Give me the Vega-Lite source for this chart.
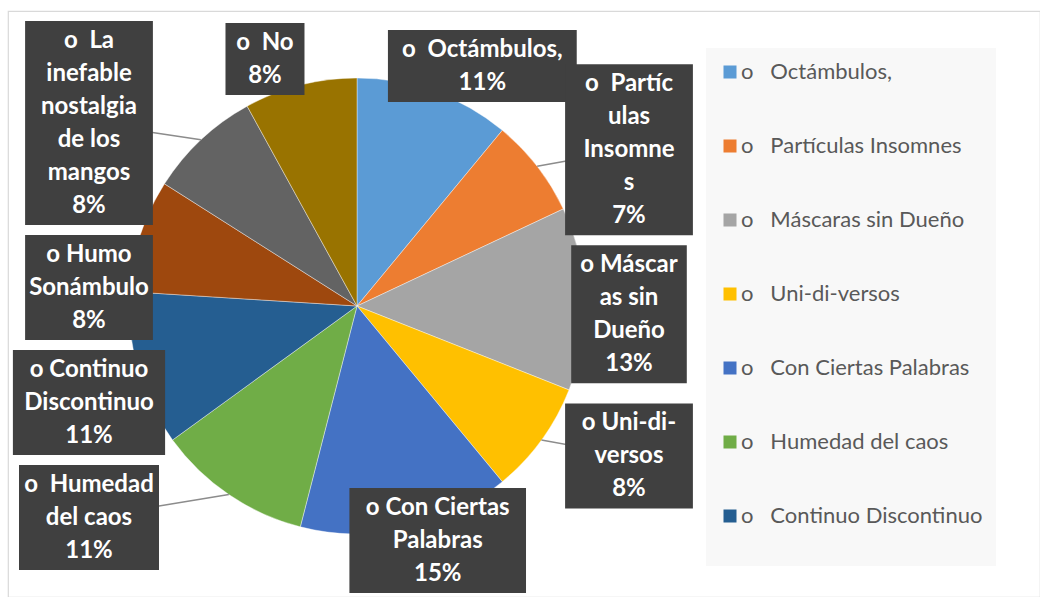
{
  "$schema": "https://vega.github.io/schema/vega-lite/v6.json",
  "width": 1032,
  "height": 586,
  "autosize": {"type": "none"},
  "padding": {"left": 8, "top": 11, "right": 0, "bottom": 0},
  "background": "#ffffff",
  "config": {"view": {"stroke": "#d9d9d9", "strokeWidth": 1.2}},
  "data": {
    "values": [
      {"cat": "Octámbulos,", "value": 11, "label": "o\u00a0\u00a0Octámbulos,"},
      {"cat": "Partículas Insomnes", "value": 7, "label": "o\u00a0\u00a0Partíc\nulas\nInsomne\ns"},
      {"cat": "Máscaras sin Dueño", "value": 13, "label": "o Máscar\nas sin\nDueño"},
      {"cat": "Uni-di-versos", "value": 8, "label": "o Uni-di-\nversos"},
      {"cat": "Con Ciertas Palabras", "value": 15, "label": "o Con Ciertas\nPalabras"},
      {"cat": "Humedad del caos", "value": 11, "label": "o\u00a0\u00a0Humedad\ndel caos"},
      {"cat": "Continuo Discontinuo", "value": 11, "label": "o Continuo\nDiscontinuo"},
      {"cat": "Humo Sonámbulo", "value": 8, "label": "o Humo\nSonámbulo"},
      {"cat": "La inefable nostalgia de los mangos", "value": 8, "label": "o\u00a0\u00a0La\ninefable\nnostalgia\nde los\nmangos"},
      {"cat": "No", "value": 8, "label": "o\u00a0\u00a0No"}
    ]
  },
  "transform": [
    {"window": [{"op": "row_number", "as": "rn"}]},
    {"stack": "value", "groupby": [], "sort": [{"field": "rn"}], "as": ["v0", "v1"]},
    {"calculate": "PI*(datum.v0+datum.v1)/100", "as": "a"},
    {"calculate": "sin(datum.a)", "as": "s"},
    {"calculate": "cos(datum.a)", "as": "c"},
    {"calculate": "datum.label + '\\n' + datum.value + '%'", "as": "lab"},
    {"calculate": "split(datum.lab, '\\n')", "as": "lines"},
    {"calculate": "length(datum.lines)", "as": "n"},
    {"calculate": "max(length(datum.lines[0]||''), length(datum.lines[1]||''), length(datum.lines[2]||''), length(datum.lines[3]||''), length(datum.lines[4]||''), length(datum.lines[5]||''))", "as": "ml"},
    {"calculate": "datum.ml*12.2+18", "as": "w"},
    {"calculate": "datum.n*33+6", "as": "h"},
    {"calculate": "abs(datum.s) < 0.45 ? 'C' : (datum.s > 0 ? 'R' : 'L')", "as": "grp"},
    {"calculate": "datum.grp == 'C' ? datum.cat : datum.grp", "as": "gkey"},
    {"calculate": "datum.grp == 'C' ? 370*datum.s : (datum.s > 0 ? 272 : -268)", "as": "lx"},
    {"calculate": "max(-285, -255*datum.c - datum.h/2)", "as": "T"},
    {"calculate": "datum.h + 10", "as": "hg"},
    {"window": [{"op": "sum", "field": "hg", "as": "cum"}], "groupby": ["gkey"], "sort": [{"field": "T"}]},
    {"calculate": "datum.cum - datum.hg", "as": "C0"},
    {"calculate": "datum.T - datum.C0", "as": "u"},
    {"window": [{"op": "max", "field": "u", "as": "umax"}], "groupby": ["gkey"], "sort": [{"field": "T"}]},
    {"calculate": "min(287 - datum.h, datum.C0 + datum.umax)", "as": "top"},
    {"calculate": "datum.top + datum.h", "as": "bot"},
    {"calculate": "datum.top + datum.h/2", "as": "ly"},
    {"calculate": "datum.top + 20", "as": "ty"},
    {"calculate": "datum.lx - datum.w/2", "as": "bx0"},
    {"calculate": "datum.lx + datum.w/2", "as": "bx1"},
    {"calculate": "228*datum.s", "as": "ex"},
    {"calculate": "-228*datum.c", "as": "ey"}
  ],
  "layer": [
    {
      "mark": {"type": "arc", "outerRadius": 228, "stroke": "#ffffff", "strokeWidth": 0.4},
      "encoding": {
        "x": {"datum": 0, "type": "quantitative", "scale": {"domain": [-349, 683], "nice": false, "zero": false}, "axis": null},
        "y": {"datum": 0, "type": "quantitative", "scale": {"domain": [-295, 291], "nice": false, "zero": false, "reverse": true}, "axis": null},
        "theta": {"field": "v0", "type": "quantitative", "scale": {"domain": [0, 100]}},
        "theta2": {"field": "v1"},
        "color": {
          "field": "cat",
          "type": "nominal",
          "scale": {
            "domain": ["Octámbulos,", "Partículas Insomnes", "Máscaras sin Dueño", "Uni-di-versos", "Con Ciertas Palabras", "Humedad del caos", "Continuo Discontinuo", "Humo Sonámbulo", "La inefable nostalgia de los mangos", "No"],
            "range": ["#5B9BD5", "#ED7D31", "#A5A5A5", "#FFC000", "#4472C4", "#70AD47", "#255E91", "#9E480E", "#636363", "#997300"]
          },
          "legend": {
            "orient": "none",
            "legendX": 698,
            "legendY": 37,
            "title": "\u00a0",
            "titleOrient": "bottom",
            "titleFont": "Lato",
            "titleFontSize": 20,
            "titlePadding": 6,
            "values": ["Octámbulos,", "Partículas Insomnes", "Máscaras sin Dueño", "Uni-di-versos", "Con Ciertas Palabras", "Humedad del caos", "Continuo Discontinuo"],
            "symbolType": "square",
            "symbolSize": 169,
            "symbolStrokeWidth": 0,
            "symbolOpacity": 1,
            "labelFont": "Lato",
            "labelFontSize": 22,
            "labelColor": "#595959",
            "labelOffset": 0,
            "labelLimit": 400,
            "rowPadding": 52,
            "fillColor": "#f8f8f8",
            "padding": 13,
            "labelExpr": "'o\u00a0\u00a0\u00a0' + datum.label + '\u00a0\u00a0\u00a0\u00a0\u00a0\u00a0\u00a0\u00a0\u00a0\u00a0\u00a0\u00a0'"
          }
        }
      }
    },
    {
      "mark": {"type": "rule", "stroke": "#8c8c8c", "strokeWidth": 1.5},
      "encoding": {
        "x": {"field": "ex", "type": "quantitative", "scale": {"domain": [-349, 683], "nice": false, "zero": false}, "axis": null},
        "y": {"field": "ey", "type": "quantitative", "scale": {"domain": [-295, 291], "nice": false, "zero": false, "reverse": true}, "axis": null},
        "x2": {"field": "lx"},
        "y2": {"field": "ly"}
      }
    },
    {
      "mark": {"type": "rect", "fill": "#404040"},
      "encoding": {
        "x": {"field": "bx0", "type": "quantitative", "scale": {"domain": [-349, 683], "nice": false, "zero": false}, "axis": null},
        "x2": {"field": "bx1"},
        "y": {"field": "top", "type": "quantitative", "scale": {"domain": [-295, 291], "nice": false, "zero": false, "reverse": true}, "axis": null},
        "y2": {"field": "bot"}
      }
    },
    {
      "mark": {"type": "text", "lineBreak": "\n", "lineHeight": 33, "font": "Lato", "fontSize": 24, "fontWeight": "bold", "fill": "#ffffff", "align": "center", "baseline": "middle"},
      "encoding": {
        "x": {"field": "lx", "type": "quantitative", "scale": {"domain": [-349, 683], "nice": false, "zero": false}, "axis": null},
        "y": {"field": "ty", "type": "quantitative", "scale": {"domain": [-295, 291], "nice": false, "zero": false, "reverse": true}, "axis": null},
        "text": {"field": "lab"}
      }
    }
  ]
}
